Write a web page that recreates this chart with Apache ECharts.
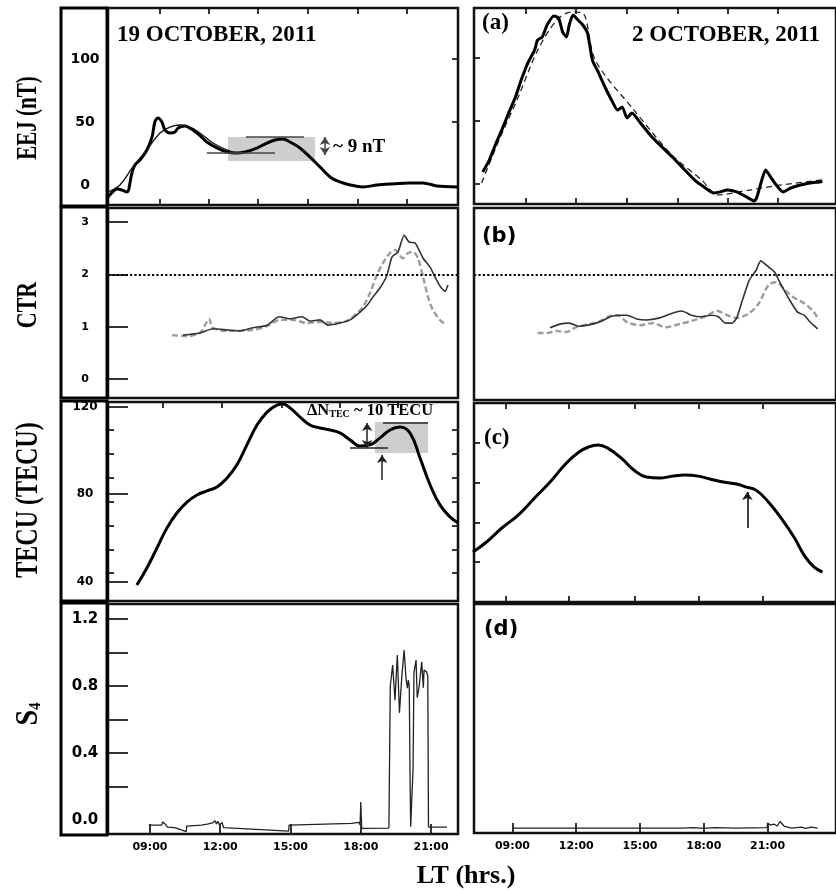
<!DOCTYPE html>
<html><head><meta charset="utf-8">
<script src="https://cdn.jsdelivr.net/npm/echarts@6/dist/echarts.min.js"></script>
<style>html,body{margin:0;padding:0;background:#fff}#c{width:836px;height:890px}</style>
</head><body><div id="c"></div><script>
// ---------------- DATA (x = local time in hours) ----------------
const hourLabels = [9, 12, 15, 18, 21];
const xTicksEejL = [9.43, 11.52, 13.61, 15.75, 17.88, 19.97];
const xTicksTecL = [9.56, 12.07, 14.64, 17.11, 19.59];
const xTicksEejR = [9.63, 11.99, 14.39, 16.79, 19.14, 21.5];
const xTicksTecR = [8.68, 11.67, 14.75, 17.78, 20.77];
const yLabelsEej = [0, 50, 100];
const yTicksEejRight = [50, 100];
const yLabelsCtr = [0, 1, 2, 3];
const yLabelsTec = [40, 80, 120];
const yMinorTec = [44, 54.5, 65.5, 76.5, 87.5, 98.5, 109.5];
const yTicksTecR = [49, 66.8, 85, 103.3];
const yLabelsS4 = [0, 0.4, 0.8, 1.2];
const yTicksS4 = [0.2, 0.4, 0.6, 0.8, 1.0, 1.2];
const ctrThreshold = 2;

// 19 October 2011
const eejOct19 = [[7.21,-9.5],[7.29,-7.9],[7.59,-3.2],[7.8,-4],[8.02,-5.6],[8.23,9.5],[8.36,15.9],[8.57,19.8],[8.87,27.8],[9.09,38.1],[9.21,50],[9.34,53.2],[9.51,50],[9.64,43.7],[9.85,41.3],[10.07,42.1],[10.2,45.2],[10.49,46.8],[10.62,46],[11.01,41.3],[11.43,34.1],[11.86,29.4],[12.29,26.2],[12.71,25.4],[13.06,26.2],[13.48,28.6],[13.91,32.5],[14.34,35.7],[14.68,36.5],[14.98,34.1],[15.4,29.4],[15.83,22.2],[16.26,14.3],[16.69,6.3],[17.11,2.4],[17.54,0],[18.09,-1.6],[18.69,0],[19.25,0.8],[20.1,1.6],[20.66,1.6],[21.25,-0.8],[22.11,-1.6]];
const eejModelOct19 = [[7.21,-5.6],[7.72,0],[8.27,14.3],[8.87,27.8],[9.43,41.3],[9.85,46],[10.28,47.6],[10.71,46],[11.13,41.3],[11.69,33.3],[12.29,27.8],[12.71,25.4],[13.0,25.8]];
const eejBoxOct19 = [12.33, 19, 16.05, 38];
const eejLowOct19 = [11.43, 14.34, 25.4];
const eejHighOct19 = [13.1, 15.58, 38];
const eejArrowOct19 = [16.47, 23.8, 38.1];

const ctrOct19 = [[10.41,0.84],[11.13,0.88],[11.69,0.96],[12.29,0.94],[12.84,0.92],[13.4,0.98],[14.0,1.03],[14.51,1.19],[14.98,1.15],[15.49,1.19],[15.83,1.11],[16.26,1.13],[16.6,1.03],[17.11,1.07],[17.54,1.13],[17.97,1.28],[18.27,1.41],[18.52,1.57],[18.82,1.74],[19.12,1.99],[19.33,2.33],[19.59,2.43],[19.85,2.75],[20.06,2.62],[20.32,2.6],[20.66,2.31],[20.96,2.14],[21.17,1.95],[21.38,1.78],[21.6,1.68],[21.72,1.8]];
const ctrRefOct19 = [[9.94,0.84],[10.58,0.82],[11.13,0.88],[11.35,1.03],[11.52,1.15],[11.69,0.98],[12.29,0.92],[12.84,0.92],[13.4,0.94],[14.0,1.01],[14.55,1.13],[15.11,1.13],[15.7,1.07],[16.26,1.09],[16.81,1.07],[17.41,1.11],[17.84,1.26],[18.09,1.38],[18.39,1.64],[18.69,1.99],[18.95,2.22],[19.25,2.41],[19.46,2.47],[19.8,2.31],[20.02,2.41],[20.23,2.43],[20.44,2.31],[20.66,1.95],[20.87,1.57],[21.08,1.32],[21.38,1.13],[21.6,1.05]];

const tecOct19 = [[8.44,38.4],[8.87,46.2],[9.3,55.3],[9.73,64.5],[10.15,71.3],[10.58,76.3],[11.01,79.5],[11.43,81.4],[11.86,83.2],[12.29,87.3],[12.71,93.2],[13.14,102.4],[13.57,111.5],[14.0,117.4],[14.42,120.6],[14.68,121.1],[14.98,119.3],[15.4,115.2],[15.83,111.5],[16.26,110.1],[16.69,109.2],[17.11,107.9],[17.54,104.7],[17.97,101.9],[18.39,102.4],[18.82,105.6],[19.25,109.2],[19.67,110.6],[20.1,107.9],[20.53,96.4],[20.96,84.1],[21.38,75],[21.81,69.5],[22.15,66.8]];
const tecBoxOct19 = [18.6, 98.7, 20.87, 112.9];
const tecLowOct19 = [17.54, 19.16, 101];
const tecHighOct19 = [18.95, 20.87, 112.4];
const tecDeltaArrowOct19 = [18.27, 101, 112.4];
const tecOnsetArrowOct19 = [18.91, 86.4, 97.8];

const s4Oct19 = [[8.95,-0.03],[9.5,-0.03],[9.55,-0.012],[9.62,-0.02],[9.68,-0.028],[9.75,-0.042],[10.05,-0.045],[10.25,-0.055],[10.55,-0.07],[10.57,-0.036],[11.2,-0.03],[11.45,-0.025],[11.7,-0.016],[11.78,-0.004],[11.84,-0.024],[11.9,-0.008],[11.97,-0.03],[12.08,-0.014],[12.14,-0.045],[14.92,-0.066],[14.94,-0.03],[17.6,-0.02],[17.92,-0.014],[17.97,-0.03],[18.0,0.107],[18.04,-0.05],[19.2,-0.048],[19.26,0.8],[19.36,0.925],[19.46,0.716],[19.56,0.985],[19.65,0.64],[19.75,0.854],[19.85,1.015],[19.93,0.848],[19.99,0.788],[20.03,0.836],[20.07,0.8],[20.1,0.3],[20.13,-0.04],[20.2,-0.04],[20.23,0.3],[20.27,0.88],[20.36,0.955],[20.41,0.73],[20.5,0.806],[20.6,0.945],[20.67,0.79],[20.7,0.895],[20.81,0.885],[20.86,0.86],[20.89,-0.042],[21.68,-0.042]];

// 2 October 2011
const eejOct02 = [[7.6,9.5],[7.91,19],[8.23,32.5],[8.5,42.9],[8.82,56.3],[9.14,69],[9.41,82.5],[9.72,96],[10.04,106.3],[10.18,114.3],[10.4,116.7],[10.63,126.2],[10.95,133.3],[11.17,131.7],[11.36,120.6],[11.54,116.7],[11.67,126.2],[11.85,134.1],[12.08,130.2],[12.31,126.2],[12.53,119.8],[12.76,98.4],[13.03,88.9],[13.35,77],[13.66,66.7],[13.94,58.7],[14.16,61.1],[14.39,52.4],[14.62,56.3],[15.02,48.4],[15.48,38.9],[15.93,31],[16.52,21.4],[17.11,11.1],[17.56,3.2],[18.01,-2.4],[18.47,-7.1],[18.78,-6.3],[19.1,-4.8],[19.55,-6.3],[20.01,-10.3],[20.37,-13.5],[20.5,-10.3],[20.73,3.2],[20.91,11.1],[21.14,5.6],[21.41,-0.8],[21.73,-6.3],[22.09,-3.2],[22.54,-0.8],[23.0,0.8],[23.45,1.6],[23.58,2]];
const eejModelOct02 = [[7.55,0.8],[8.37,35],[9.27,69],[10.18,106],[11.08,130],[11.76,136.5],[12.31,135.7],[12.9,98],[14.7,59],[16.5,23],[17.9,3.2],[18.65,-8.7],[20.14,-4.8],[21.64,-0.8],[23.58,3.2]];

const ctrOct02 = [[10.77,0.98],[11.22,1.05],[11.67,1.07],[12.13,1.01],[12.76,1.05],[13.21,1.11],[13.66,1.2],[14.12,1.22],[14.39,1.22],[14.84,1.15],[15.3,1.13],[15.93,1.17],[16.52,1.26],[16.97,1.3],[17.42,1.22],[17.88,1.19],[18.33,1.22],[18.69,1.19],[19.01,1.07],[19.33,1.07],[19.55,1.17],[19.82,1.51],[20.14,1.89],[20.46,2.08],[20.68,2.26],[21.05,2.14],[21.32,2.05],[21.64,1.8],[22.04,1.51],[22.41,1.28],[22.72,1.22],[23.0,1.09],[23.36,0.96]];
const ctrRefOct02 = [[10.18,0.88],[10.63,0.88],[11.08,0.92],[11.54,0.9],[11.99,0.99],[12.58,1.05],[13.03,1.09],[13.48,1.19],[13.94,1.22],[14.39,1.09],[15.02,1.03],[15.61,1.07],[16.2,0.99],[16.84,1.05],[17.42,1.11],[18.01,1.19],[18.65,1.3],[19.1,1.22],[19.55,1.17],[20.14,1.26],[20.59,1.45],[21.05,1.8],[21.41,1.85],[21.82,1.7],[22.27,1.55],[22.72,1.45],[23.18,1.28],[23.4,1.13]];

const tecOct02 = [[7.14,53.5],[7.78,58.1],[8.5,64.5],[9.27,70.4],[10.04,78.2],[10.77,85.5],[11.54,94.2],[12.13,99.2],[12.58,101.5],[13.03,102.4],[13.48,101],[14.12,96.4],[14.71,91],[15.3,87.8],[15.93,87.3],[16.52,88.2],[17.11,88.7],[17.74,88.2],[18.33,86.8],[18.92,85.5],[19.55,84.6],[20.01,83.2],[20.46,81.8],[21.05,76.3],[21.64,69],[22.27,59.9],[22.72,52.1],[23.18,46.7],[23.58,44.4]];
const tecOnsetArrowOct02 = [20.05, 64.5, 80.9];

const s4Oct02 = [[9.0,-0.048],[17.0,-0.048],[17.5,-0.045],[18.0,-0.05],[18.5,-0.046],[19.5,-0.048],[20.98,-0.046],[21.0,-0.018],[21.13,-0.03],[21.3,-0.024],[21.45,-0.036],[21.59,-0.009],[21.77,-0.036],[22.13,-0.048],[22.59,-0.042],[22.8,-0.05],[23.04,-0.042],[23.36,-0.048]];

// ---------------- LAYOUT / STYLE ----------------
const serif = '"Liberation Serif", "Times New Roman", serif';
const sans = '"DejaVu Sans", Verdana, sans-serif';
const XL = [7.21, 22.15], XR = [7.19, 24.22];

const grid = [
  {left:108, top:8, width:350, height:197},
  {left:108, top:208, width:350, height:190},
  {left:108, top:402, width:350, height:199},
  {left:108, top:604, width:350, height:230},
  {left:474, top:8, width:376, height:196},
  {left:474, top:208, width:376, height:192},
  {left:474, top:403, width:376, height:199},
  {left:474, top:604, width:376, height:229}
].map(g => Object.assign({show:true, borderColor:'#111', borderWidth:2.5}, g));

function axisBase(gi, range, extra) {
  return Object.assign({
    type:'value', gridIndex:gi, min:range[0], max:range[1],
    axisLine:{show:false, onZero:false}, splitLine:{show:false},
    axisLabel:{show:false}, axisTick:{show:false}
  }, extra || {});
}
function ticks(vals, len) {
  return {show:true, inside:true, length:len, customValues:vals, lineStyle:{color:'#111', width:1.7}};
}
const hourFmt = v => (v < 10 ? '0' : '') + v + ':00';
const xLab = {show:true, customValues:hourLabels, formatter:hourFmt, color:'#000', fontFamily:sans, fontWeight:'bold', fontSize:11, margin:8};

const xAxis = [
  axisBase(0, XL, {position:'bottom', axisTick:ticks(xTicksEejL, 6)}),   //0
  axisBase(0, XL, {position:'top', axisTick:ticks(xTicksEejL, 6)}),      //1
  axisBase(1, XL, {position:'bottom'}),                                  //2
  axisBase(2, XL, {position:'top', axisTick:ticks(xTicksTecL, 6)}),      //3
  axisBase(3, XL, {position:'bottom', axisTick:ticks(hourLabels, 10), axisLabel:xLab}), //4
  axisBase(4, XR, {position:'bottom', axisTick:ticks(xTicksEejR, 6)}),   //5
  axisBase(4, XR, {position:'top', axisTick:ticks(xTicksEejR, 6)}),      //6
  axisBase(5, XR, {position:'bottom'}),                                  //7
  axisBase(6, XR, {position:'bottom', axisTick:ticks(xTicksTecR, 6)}),   //8
  axisBase(6, XR, {position:'top', axisTick:ticks(xTicksTecR, 6)}),      //9
  axisBase(7, XR, {position:'bottom', axisTick:ticks(hourLabels, 10), axisLabel:xLab}) //10
];

function yLab(vals, size, fmt) {
  return {show:true, customValues:vals, color:'#000', fontFamily:sans, fontWeight:'bold', fontSize:size, align:'center', margin:23, formatter: fmt || (v => String(v))};
}
const R = {
  LE:[-15.9,140.5], LC:[-0.363,3.27], LT:[31.1,122.0], LS:[-0.0836,1.29],
  RE:[-15.9,139.7], RC:[-0.40,3.27], RT:[30.7,121.6], RS:[-0.0776,1.29]
};
const yAxis = [
  axisBase(0, R.LE, {position:'left', axisLabel:yLab(yLabelsEej, 14)}),                          //0
  axisBase(0, R.LE, {position:'right', axisTick:ticks(yTicksEejRight, 6)}),                      //1
  axisBase(1, R.LC, {position:'left', axisLabel:yLab(yLabelsCtr, 11), axisTick:ticks(yLabelsCtr, 20)}), //2
  axisBase(2, R.LT, {position:'left', axisLabel:yLab(yLabelsTec, 12), axisTick:ticks(yLabelsTec, 20)}), //3
  axisBase(2, R.LT, {position:'left', axisTick:ticks(yMinorTec, 6)}),                            //4
  axisBase(2, R.LT, {position:'right', axisTick:ticks(yMinorTec, 6)}),                           //5
  axisBase(3, R.LS, {position:'left', axisLabel:yLab(yLabelsS4, 15, v => v.toFixed(1)), axisTick:ticks(yTicksS4, 20)}), //6
  axisBase(4, R.RE, {position:'left', axisTick:ticks(yLabelsEej, 6)}),                           //7
  axisBase(5, R.RC, {position:'left'}),                                                          //8
  axisBase(6, R.RT, {position:'left', axisTick:ticks(yTicksTecR, 6)}),                           //9
  axisBase(7, R.RS, {position:'left'})                                                           //10
];

function line(data, xi, yi, style, extra) {
  return Object.assign({type:'line', data, xAxisIndex:xi, yAxisIndex:yi, showSymbol:false, symbol:'none',
    silent:true, animation:false, lineStyle:style, z:3}, extra || {});
}
function seg(x1, y1, x2, y2, s1, s2) {
  return [{coord:[x1,y1], symbol:s1 || 'none', symbolSize:8}, {coord:[x2,y2], symbol:s2 || 'none', symbolSize:8}];
}
const mlBase = {silent:true, animation:false, symbol:['none','none'], label:{show:false}, emphasis:{disabled:true}};
const dotted = Object.assign({}, mlBase, {lineStyle:{type:'dotted', width:2.2, color:'#000'}, data:[{yAxis:ctrThreshold}]});

const series = [
  // 19 Oct EEJ
  line(eejOct19, 0, 0, {color:'#000', width:3}, {smooth:0.3,
    markArea:{silent:true, itemStyle:{color:'#c6c6c6', opacity:0.85}, label:{show:false},
      data:[[{coord:[eejBoxOct19[0], eejBoxOct19[1]]}, {coord:[eejBoxOct19[2], eejBoxOct19[3]]}]]},
    markLine:Object.assign({}, mlBase, {lineStyle:{type:'solid', width:1.5, color:'#444'}, data:[
      seg(eejLowOct19[0], eejLowOct19[2], eejLowOct19[1], eejLowOct19[2]),
      seg(eejHighOct19[0], eejHighOct19[2], eejHighOct19[1], eejHighOct19[2]),
      seg(eejArrowOct19[0], eejArrowOct19[1], eejArrowOct19[0], eejArrowOct19[2], 'arrow', 'arrow')
    ]})}),
  line(eejModelOct19, 0, 0, {color:'#111', width:1.3}, {smooth:0.4}),
  // 19 Oct CTR
  line(ctrRefOct19, 2, 2, {color:'#9c9c9c', width:2.4, type:[6,3]}, {smooth:0.3, markLine:dotted}),
  line(ctrOct19, 2, 2, {color:'#333', width:1.6}, {smooth:0.2}),
  // 19 Oct TEC
  line(tecOct19, 3, 3, {color:'#000', width:3}, {smooth:0.45,
    markArea:{silent:true, itemStyle:{color:'#c6c6c6', opacity:0.85}, label:{show:false},
      data:[[{coord:[tecBoxOct19[0], tecBoxOct19[1]]}, {coord:[tecBoxOct19[2], tecBoxOct19[3]]}]]},
    markLine:Object.assign({}, mlBase, {lineStyle:{type:'solid', width:1.5, color:'#222'}, data:[
      seg(tecLowOct19[0], tecLowOct19[2], tecLowOct19[1], tecLowOct19[2]),
      seg(tecHighOct19[0], tecHighOct19[2], tecHighOct19[1], tecHighOct19[2]),
      seg(tecDeltaArrowOct19[0], tecDeltaArrowOct19[1], tecDeltaArrowOct19[0], tecDeltaArrowOct19[2], 'arrow', 'arrow'),
      seg(tecOnsetArrowOct19[0], tecOnsetArrowOct19[1], tecOnsetArrowOct19[0], tecOnsetArrowOct19[2], 'none', 'arrow')
    ]})}),
  // 19 Oct S4
  line(s4Oct19, 4, 6, {color:'#222', width:1.3}),
  // 2 Oct EEJ
  line(eejModelOct02, 5, 7, {color:'#222', width:1.3, type:[6,4]}, {smooth:0.3}),
  line(eejOct02, 5, 7, {color:'#000', width:3}, {smooth:0.2}),
  // 2 Oct CTR
  line(ctrRefOct02, 7, 8, {color:'#9c9c9c', width:2.4, type:[6,3]}, {smooth:0.3, markLine:dotted}),
  line(ctrOct02, 7, 8, {color:'#333', width:1.6}, {smooth:0.2}),
  // 2 Oct TEC
  line(tecOct02, 8, 9, {color:'#000', width:3}, {smooth:0.45,
    markLine:Object.assign({}, mlBase, {lineStyle:{type:'solid', width:1.6, color:'#111'}, data:[
      seg(tecOnsetArrowOct02[0], tecOnsetArrowOct02[1], tecOnsetArrowOct02[0], tecOnsetArrowOct02[2], 'none', 'arrow')
    ]})}),
  // 2 Oct S4
  line(s4Oct02, 10, 10, {color:'#222', width:1.3})
];

function txt(x, y, text, font) {
  return {type:'text', x, y, silent:true, z:10,
    style:{text, font, fill:'#000', textAlign:'left', align:'left', textVerticalAlign:'middle', verticalAlign:'middle'}};
}
function vtxt(x, y, text, font, sy, rich) {
  const st = {text, font, fill:'#000', textAlign:'center', align:'center', textVerticalAlign:'middle', verticalAlign:'middle'};
  if (rich) st.rich = rich;
  return {type:'text', x, y, rotation:Math.PI/2, scaleY:sy, silent:true, z:10, style:st};
}
function box(y, h) {
  return {type:'rect', silent:true, z:5, shape:{x:61, y, width:46, height:h}, style:{fill:'none', stroke:'#000', lineWidth:3}};
}

const deltaLabel = txt(307, 411, '{d|ΔN}{s|TEC}{d| ~ 10 TECU}', `bold 16px ${serif}`);
deltaLabel.style.rich = {d:{font:`bold 16.5px ${serif}`}, s:{font:`bold 10px ${serif}`, verticalAlign:'bottom', padding:[5,0,0,0]}};

const graphic = [
  box(8, 198), box(207, 191), box(401, 200), box(603, 232),
  txt(117, 35, '19 OCTOBER, 2011', `bold 23px ${serif}`),
  txt(632, 35, '2 OCTOBER, 2011', `bold 23px ${serif}`),
  txt(482, 23, '(a)', `bold 23px ${serif}`),
  txt(482, 237, '(b)', `bold 21px ${sans}`),
  txt(484, 438, '(c)', `bold 23px ${serif}`),
  txt(484, 630, '(d)', `bold 21px ${sans}`),
  txt(333, 147, '~ 9 nT', `bold 19px ${serif}`),
  deltaLabel,
  vtxt(29, 118, 'EEJ (nT)', `bold 21px ${serif}`, 1.38),
  vtxt(28, 305, 'CTR', `bold 22px ${serif}`, 1.36),
  vtxt(29, 500, 'TECU (TECU)', `bold 24px ${serif}`, 1.3),
  vtxt(29, 714, '{a|S}{b|4}', `bold 28px ${serif}`, 1.1, {a:{font:`bold 28px ${serif}`}, b:{font:`bold 15px ${serif}`, verticalAlign:'bottom', padding:[8,0,0,0]}}),
  {type:'text', x:466, y:876, silent:true, z:10, style:{text:'LT (hrs.)', font:`bold 26px ${serif}`, fill:'#000', textAlign:'center', align:'center', textVerticalAlign:'middle', verticalAlign:'middle'}}
];

const chart = echarts.init(document.getElementById('c'), null, {renderer:'canvas'});
chart.setOption({animation:false, backgroundColor:'#fff', grid, xAxis, yAxis, series, graphic});
</script></body></html>
